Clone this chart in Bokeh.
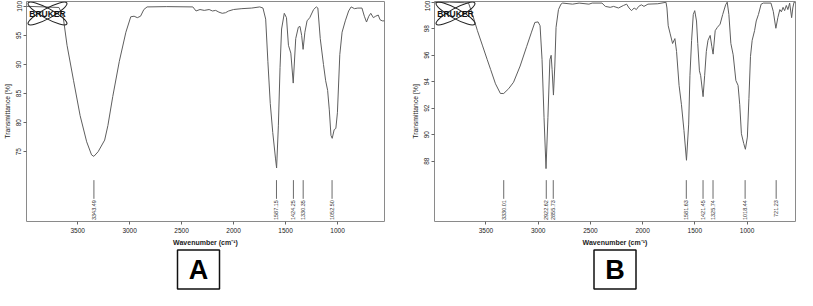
import math
from bokeh.plotting import figure
from bokeh.layouts import row, column
from bokeh.models import FixedTicker, Range1d
from bokeh.embed import file_html
from bokeh.resources import INLINE
from bokeh.core.properties import value

# ---------------- data ----------------
wn_a = [3991, 3821, 3680, 3640, 3602, 3539, 3476, 3413, 3366, 3344, 3303, 3240, 3209, 3162,
        3099, 3036, 2989, 2957, 2926, 2895, 2863, 2832, 2643, 2392, 2361, 2323, 2282, 2235,
        2203, 2172, 2141, 2109, 2078, 2047, 2000, 1920, 1826, 1748, 1717, 1691, 1670, 1647,
        1623, 1597, 1586, 1569, 1553, 1538, 1512, 1491, 1472, 1449, 1426, 1402, 1377, 1361,
        1345, 1331, 1314, 1293, 1267, 1230, 1204, 1189, 1166, 1135, 1114, 1095, 1079, 1063,
        1051, 1032, 1016, 1001, 978, 956, 925, 893, 869, 837, 805, 765, 742, 721, 699, 680,
        655, 633, 608, 591, 570, 548]
t_a = [100.0, 99.9, 99.8, 98.3, 93.3, 87.2, 81.2, 76.7, 74.45, 74.2, 75.0, 77.0, 79.5, 84.5,
       90.55, 95.55, 98.2, 98.3, 98.05, 98.3, 99.45, 99.9, 99.95, 99.9, 99.2, 99.45, 99.3, 99.45,
       99.2, 99.3, 99.0, 98.8, 98.9, 99.2, 99.45, 99.6, 99.7, 99.9, 99.7, 97.8, 90.55, 83.3,
       78.3, 73.9, 72.2, 79.45, 89.45, 96.1, 98.8, 98.05, 93.3, 91.95, 86.8, 94.45, 96.4, 96.55,
       95.0, 92.6, 95.55, 97.5, 98.05, 99.45, 99.9, 99.7, 94.45, 90.0, 87.2, 85.55, 82.2, 77.8,
       77.3, 78.8, 79.0, 81.7, 91.7, 95.55, 97.5, 99.2, 99.9, 99.6, 99.7, 99.7, 98.3, 97.3, 98.3, 98.8,
       98.05, 98.3, 98.5, 97.7, 97.5, 97.5]
peaks_a = [3343.49, 1587.15, 1424.25, 1330.35, 1052.50]

wn_b = [3993, 3849, 3707, 3667, 3629, 3582, 3535, 3488, 3456, 3409, 3362, 3330, 3283, 3236,
        3173, 3111, 3064, 3032, 3001, 2982, 2963, 2944, 2925, 2907, 2888, 2876, 2867, 2854,
        2841, 2829, 2806, 2782, 2766, 2671, 2608, 2514, 2483, 2389, 2357, 2310, 2278, 2231,
        2184, 2153, 2130, 2106, 2081, 2060, 2038, 2012, 1987, 1949, 1855, 1776, 1767, 1755,
        1736, 1713, 1691, 1675, 1651, 1628, 1604, 1580, 1559, 1547, 1531, 1515, 1501, 1484,
        1472, 1456, 1444, 1421, 1406, 1390, 1374, 1353, 1337, 1325, 1305, 1284, 1258, 1233,
        1205, 1190, 1174, 1155, 1133, 1107, 1086, 1070, 1054, 1032, 1016, 997, 982, 967, 951,
        928, 912, 891, 865, 844, 771, 749, 724, 705, 686, 671, 655, 640, 624, 609, 592, 573,
        562, 550, 536]
t_b = [99.99, 100.0, 99.96, 99.93, 99.07, 97.85, 96.76, 95.66, 94.93, 93.84, 93.11, 93.11, 93.47, 93.96,
       95.18, 96.64, 97.74, 98.47, 98.51, 98.22, 95.66, 91.28, 87.44, 91.28, 95.66, 95.99, 94.93, 92.99,
       95.18, 98.1, 99.44, 99.85, 99.93, 99.85, 99.93, 99.85, 99.93, 99.93, 99.68, 99.61, 99.68, 99.56,
       99.75, 99.85, 99.56, 99.36, 99.56, 99.44, 99.68, 99.8, 99.68, 99.85, 99.88, 99.99, 99.56, 98.22,
       97.61, 96.88, 97.25, 96.28, 93.72, 92.26, 90.31, 88.07, 90.8, 94.45, 97.12, 99.07, 99.36, 98.58,
       96.88, 94.82, 94.45, 92.87, 94.45, 96.28, 97.12, 97.49, 96.64, 96.08, 97.85, 98.1, 98.34, 99.07,
       99.8, 100.0, 99.07, 96.88, 96.03, 94.09, 93.72, 92.26, 90.07, 89.34, 88.9, 89.82, 92.74, 95.91, 97.12,
       97.85, 98.58, 99.07, 99.85, 99.93, 99.93, 99.31, 98.03, 98.83, 99.44, 99.27, 99.61, 99.36, 99.75, 99.44, 99.93, 98.83,
       99.56, 100.0, 100.0]
peaks_b = [3330.01, 2922.62, 2855.73, 1581.63, 1421.45, 1325.74, 1018.44, 721.23]

x_ticks = [3500, 3000, 2500, 2000, 1500, 1000]
y_ticks_a = [75, 80, 85, 90, 95, 100]
y_ticks_b = [88, 90, 92, 94, 96, 98, 100]
x_range_a = (3992, 548)
x_range_b = (3993, 536)
y_range_a = (63.0, 100.83)
y_range_b = (83.45, 100.05)
panel_letters = ["A", "B"]

FONT = "Liberation Sans"
FIG_H = 248
MB_TOP = 1
MB_BOT = 27


def make_panel(wn, t, peaks, yticks, xr, yr, width, mbl, mbr):
    p = figure(width=width, height=FIG_H, x_range=Range1d(*xr), y_range=Range1d(*yr),
               output_backend="svg", toolbar_location=None,
               min_border_left=mbl, min_border_right=mbr,
               min_border_top=MB_TOP, min_border_bottom=MB_BOT)
    p.grid.visible = False
    p.outline_line_color = "#8a8a8a"
    p.outline_line_width = 1

    p.line(wn, t, line_color="#5e5e5e", line_width=1)

    # peak markers
    ytop, ybot = yr[1], yr[0]
    span = ytop - ybot
    m0 = ytop - 0.812 * span
    m1 = ytop - 0.897 * span
    lab = ytop - 0.903 * span
    p.segment(x0=peaks, y0=[m0] * len(peaks), x1=peaks, y1=[m1] * len(peaks),
              line_color="#6a6a6a", line_width=1)
    p.text(x=peaks, y=[lab] * len(peaks), text=["%.2f" % v for v in peaks],
           angle=math.pi / 2, text_align="right", text_baseline="middle",
           text_font=value(FONT), text_font_size="5.5px", text_color="#333333")

    # Bruker logo near the top-left corner of the frame
    fw = width - mbl - mbr
    fh = FIG_H - MB_TOP - MB_BOT
    cx = xr[0] - 21 * (xr[0] - xr[1]) / fw
    cy = ytop - 12 * span / fh
    p.ellipse(x=[cx, cx], y=[cy, cy], width=[44, 44], height=[10, 10],
              angle=[0.5, -0.5], width_units="screen", height_units="screen",
              fill_color=None, line_color="#222222", line_width=1.1)
    p.text(x=[cx], y=[cy], text=["BRUKER"], text_align="center", text_baseline="middle",
           text_font=value(FONT), text_font_style="bold", text_font_size="8.5px",
           text_color="#111111")

    p.xaxis.ticker = FixedTicker(ticks=x_ticks)
    p.yaxis.ticker = FixedTicker(ticks=yticks)
    for ax in (p.xaxis[0], p.yaxis[0]):
        ax.axis_line_color = None
        ax.major_tick_in = 0
        ax.major_tick_out = 3
        ax.major_tick_line_color = "#666666"
        ax.minor_tick_line_color = None
        ax.major_label_text_font = FONT
        ax.major_label_text_font_size = "6.5px"
        ax.major_label_text_color = "#222222"
        ax.major_label_standoff = 3
        ax.axis_label_text_font = FONT
        ax.axis_label_text_color = "#222222"
        ax.axis_label_standoff = 3
    p.xaxis.axis_label = "Wavenumber (cm\u207b\u00b9)"
    p.xaxis.axis_label_text_font_style = "bold"
    p.xaxis.axis_label_text_font_size = "7px"
    p.yaxis.axis_label = "Transmittance [%]"
    p.yaxis.axis_label_text_font_style = "normal"
    p.yaxis.axis_label_text_font_size = "6.8px"
    p.yaxis.major_label_orientation = "vertical"
    p.yaxis.major_label_standoff = 2
    return p


pa = make_panel(wn_a, t_a, peaks_a, y_ticks_a, x_range_a, y_range_a, 402, 26, 18)
pb = make_panel(wn_b, t_b, peaks_b, y_ticks_b, x_range_b, y_range_b, 395, 32, 2)

# boxed panel letters
BOX_W = 797
BOX_H = 42
pl = figure(width=BOX_W, height=BOX_H, x_range=Range1d(0, BOX_W), y_range=Range1d(0, BOX_H),
            output_backend="svg", toolbar_location=None, min_border=0,
            x_axis_type=None, y_axis_type=None)
pl.grid.visible = False
pl.outline_line_color = None
box_x = [198, 614.5]
pl.rect(x=box_x, y=[21, 21], width=42, height=39, fill_color=None,
        line_color="#111111", line_width=1.5)
pl.text(x=box_x, y=[21, 21], text=panel_letters, text_align="center", text_baseline="middle",
        text_font=value(FONT), text_font_style="bold", text_font_size="27px",
        text_color="#000000")

layout = column(row(pa, pb), pl)
open("out.html", "w").write(file_html(layout, INLINE))
